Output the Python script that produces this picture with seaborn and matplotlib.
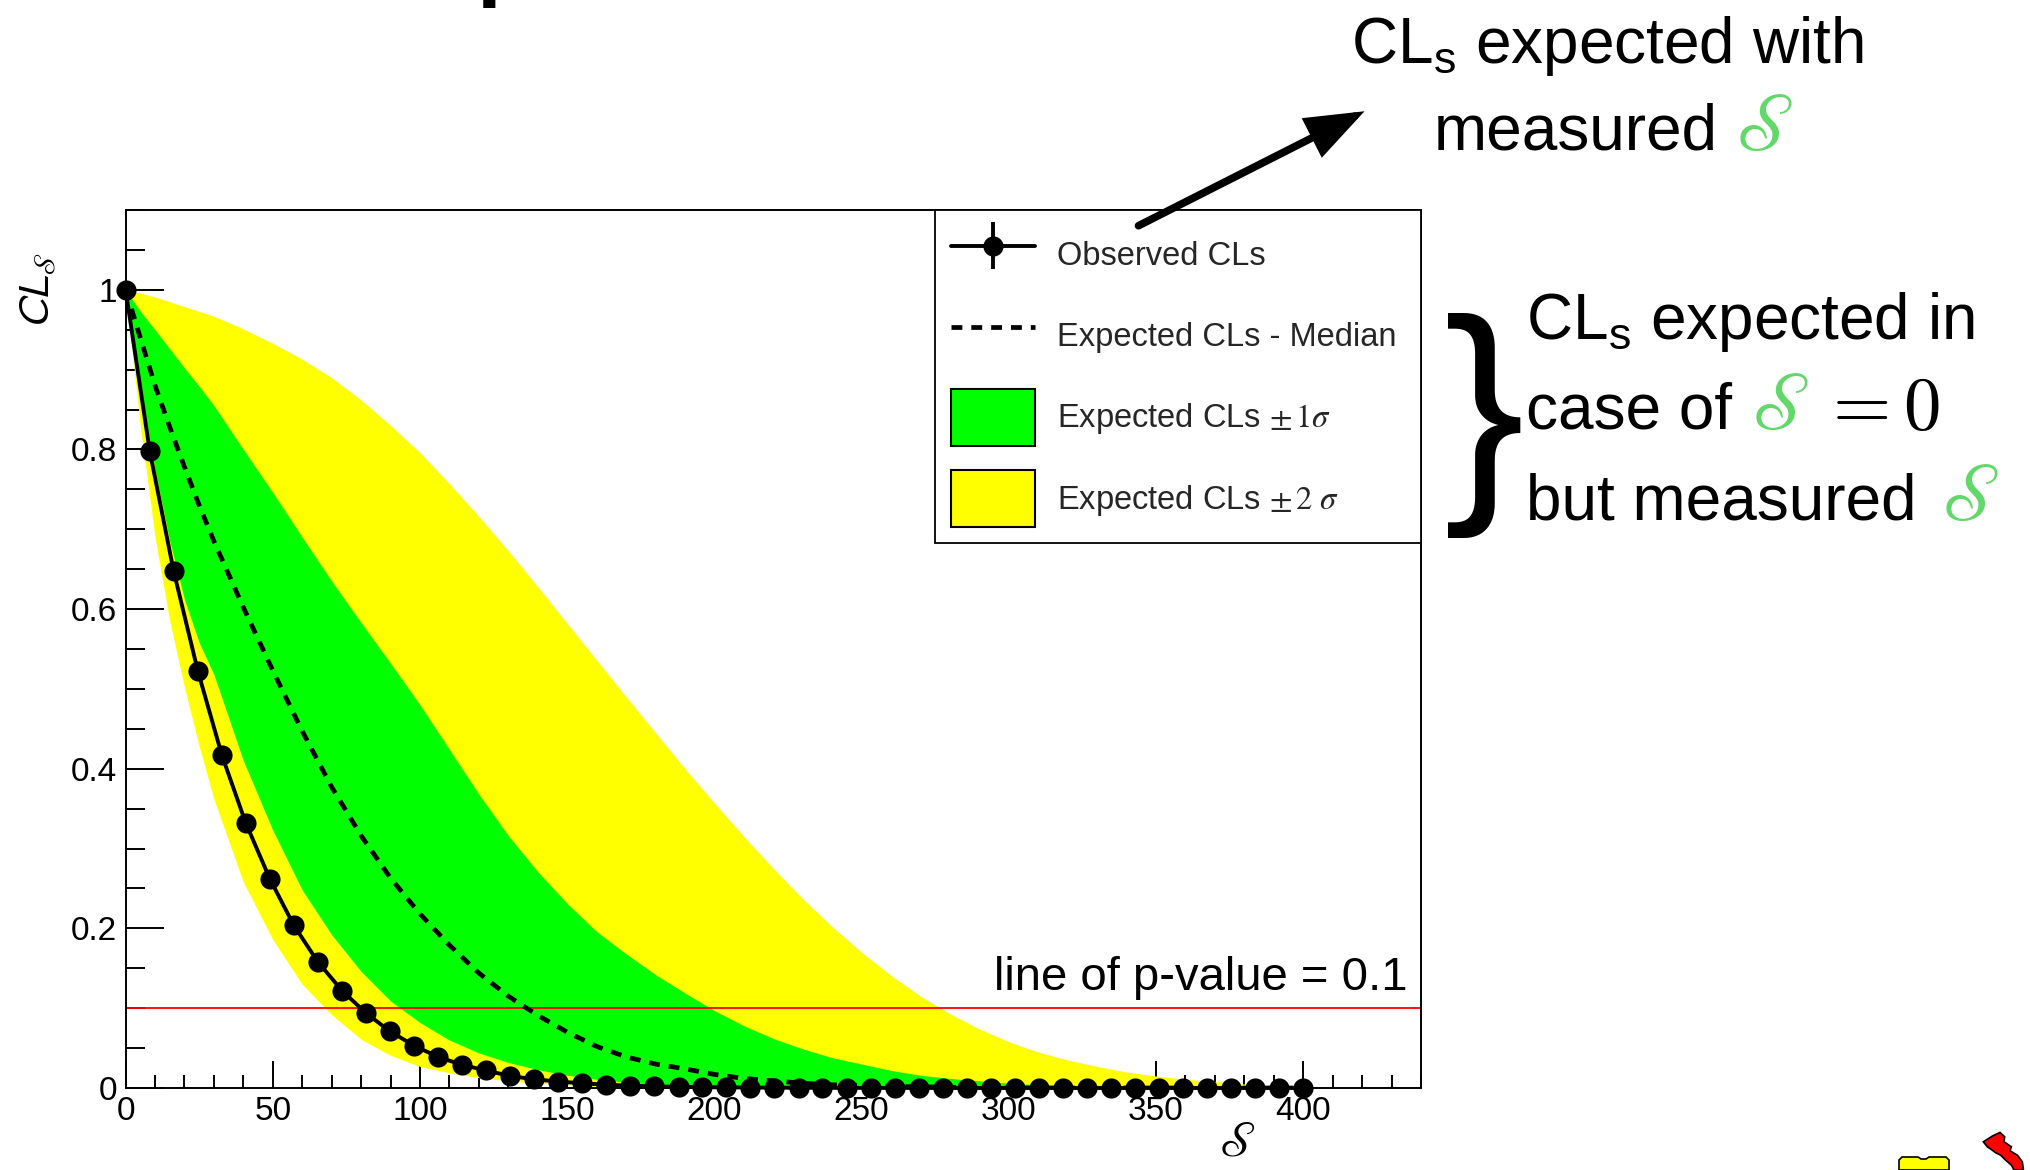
import numpy as np
import pandas as pd
import matplotlib
matplotlib.use("Agg")
import matplotlib.pyplot as plt
import seaborn as sns
from matplotlib.patches import Patch, FancyArrowPatch, Polygon
from matplotlib.ticker import MultipleLocator, FuncFormatter, FixedLocator
from matplotlib.legend_handler import HandlerErrorbar

# ---------------- data ----------------
obs_s = [0.0, 8.2, 16.3, 24.5, 32.7, 40.8, 49.0, 57.1, 65.3, 73.5,
         81.6, 89.8, 98.0, 106.1, 114.3, 122.4, 130.6, 138.8, 146.9, 155.1,
         163.3, 171.4, 179.6, 187.8, 195.9, 204.1, 212.2, 220.4, 228.6, 236.7,
         244.9, 253.1, 261.2, 269.4, 277.6, 285.7, 293.9, 302.0, 310.2, 318.4,
         326.5, 334.7, 342.9, 351.0, 359.2, 367.3, 375.5, 383.7, 391.8, 400.0]
obs_cls = [1.000, 0.798, 0.648, 0.523, 0.417, 0.332, 0.262, 0.204, 0.158, 0.122,
           0.094, 0.071, 0.053, 0.039, 0.029, 0.022, 0.015, 0.011, 0.008, 0.006,
           0.004, 0.003, 0.002, 0.0015, 0.001, 0.0008, 0.0006, 0.0004, 0.0003, 0.0002,
           0.0002, 0.0001, 0.0001, 0.0001, 0.0, 0.0, 0.0, 0.0, 0.0, 0.0,
           0.0, 0.0, 0.0, 0.0, 0.0, 0.0, 0.0, 0.0, 0.0, 0.0]

band_s = [0, 5, 10, 15, 20, 25, 30,
          40, 50, 60, 70, 80, 90, 100,
          110, 120, 130, 140, 150, 160, 170, 180, 190, 200,
          210, 220, 230, 240, 250, 260, 270, 280, 290, 300,
          310, 320, 330, 340, 350, 360, 370, 380, 390, 400]
exp_median = [1.0, 0.94, 0.880, 0.828, 0.778, 0.730, 0.685,
              0.602, 0.523, 0.447, 0.377, 0.316, 0.263, 0.218,
              0.179, 0.144, 0.115, 0.091, 0.070, 0.052, 0.039, 0.030, 0.024, 0.017,
              0.012, 0.009, 0.006, 0.004, 0.003, 0.002, 0.0015, 0.001, 0.0, 0.0,
              0.0, 0.0, 0.0, 0.0, 0.0, 0.0, 0.0, 0.0, 0.0, 0.0]
exp_1sig_lo = [1.0, 0.875, 0.775, 0.685, 0.612, 0.558, 0.518,
               0.410, 0.323, 0.248, 0.192, 0.146, 0.109, 0.082,
               0.060, 0.044, 0.032, 0.023, 0.016, 0.011, 0.007, 0.005, 0.003, 0.002,
               0.001, 0.0, 0.0, 0.0, 0.0, 0.0, 0.0, 0.0, 0.0, 0.0,
               0.0, 0.0, 0.0, 0.0, 0.0, 0.0, 0.0, 0.0, 0.0, 0.0]
exp_1sig_hi = [1.0, 0.973, 0.950, 0.926, 0.902, 0.879, 0.855,
               0.800, 0.746, 0.690, 0.635, 0.583, 0.532, 0.480,
               0.424, 0.368, 0.316, 0.271, 0.231, 0.196, 0.168, 0.142, 0.119, 0.097,
               0.078, 0.062, 0.049, 0.038, 0.030, 0.022, 0.016, 0.012, 0.009, 0.006,
               0.004, 0.003, 0.002, 0.001, 0.0, 0.0, 0.0, 0.0, 0.0, 0.0]
exp_2sig_lo = [1.0, 0.83, 0.690, 0.585, 0.502, 0.428, 0.362,
               0.258, 0.186, 0.130, 0.092, 0.061, 0.041, 0.027,
               0.019, 0.013, 0.009, 0.006, 0.004, 0.002, 0.001, 0.0, 0.0, 0.0,
               0.0, 0.0, 0.0, 0.0, 0.0, 0.0, 0.0, 0.0, 0.0, 0.0,
               0.0, 0.0, 0.0, 0.0, 0.0, 0.0, 0.0, 0.0, 0.0, 0.0]
exp_2sig_hi = [1.0, 0.996, 0.991, 0.985, 0.979, 0.973, 0.967,
               0.951, 0.933, 0.913, 0.890, 0.862, 0.830, 0.796,
               0.757, 0.716, 0.673, 0.628, 0.582, 0.536, 0.490, 0.445, 0.400, 0.357,
               0.315, 0.275, 0.237, 0.202, 0.170, 0.141, 0.115, 0.093, 0.074, 0.058,
               0.045, 0.035, 0.027, 0.020, 0.015, 0.011, 0.008, 0.005, 0.003, 0.002]
p_value = 0.1

x_ticks = [0, 50, 100, 150, 200, 250, 300, 350, 400]
y_ticks = [0.0, 0.2, 0.4, 0.6, 0.8, 1.0]
legend_labels = ["Observed CLs", "Expected CLs - Median",
                 r"Expected CLs $\pm\,1\sigma$", r"Expected CLs $\pm\,2\ \sigma$"]

# ---------------- style ----------------
sns.set_theme(style="ticks")
plt.rcParams['font.family'] = ['Liberation Sans', 'DejaVu Sans']
plt.rcParams['axes.unicode_minus'] = False

W, H = 2031, 1170
fig = plt.figure(figsize=(W / 100, H / 100), dpi=100)
fig.patch.set_facecolor('white')


def fx(px):
    return px / W


def fy(py):
    return 1 - py / H


ax = fig.add_axes([fx(125.6), fy(1088), (1421 - 125.6) / W, (1088 - 210) / H])
ax.set_facecolor('white')

obs_df = pd.DataFrame({'S': obs_s, 'CLs': obs_cls})
band_df = pd.DataFrame({'S': band_s, 'median': exp_median,
                        'lo1': exp_1sig_lo, 'hi1': exp_1sig_hi,
                        'lo2': exp_2sig_lo, 'hi2': exp_2sig_hi})

GREEN = '#00ff00'
YELLOW = '#ffff00'

ax.fill_between(band_df['S'], band_df['lo2'], band_df['hi2'], color=YELLOW, lw=0, zorder=1)
ax.fill_between(band_df['S'], band_df['lo1'], band_df['hi1'], color=GREEN, lw=0, zorder=1.1)
ax.axhline(p_value, color='#ff0000', lw=1.3, zorder=1.5)

sns.lineplot(data=band_df, x='S', y='median', color='black', linewidth=3.4,
             linestyle=(0, (2.3, 1.9)), ax=ax, legend=False, zorder=2)
med_line = ax.lines[-1]
sns.lineplot(data=obs_df, x='S', y='CLs', color='black', linewidth=2.8,
             marker='o', markersize=14.5, markeredgewidth=0, markeredgecolor='black',
             ax=ax, legend=False, zorder=3)
obs_line = ax.lines[-1]
obs_line.set_clip_on(False)

ax.set_xlim(0, 440)
ax.set_ylim(0, 1.1)

# ticks
ax.xaxis.set_major_locator(FixedLocator(x_ticks))
ax.xaxis.set_minor_locator(MultipleLocator(10))
ax.yaxis.set_major_locator(FixedLocator(y_ticks))
ax.yaxis.set_minor_locator(MultipleLocator(0.05))
ax.yaxis.set_major_formatter(FuncFormatter(lambda v, p: f"{v:g}"))
ax.xaxis.set_major_formatter(FuncFormatter(lambda v, p: f"{v:g}"))
ax.tick_params(axis='both', which='both', direction='in', colors='black',
               top=False, right=False, labelsize=24, width=1.4)
ax.tick_params(axis='x', which='major', length=19.4, pad=6)
ax.tick_params(axis='x', which='minor', length=9.4)
ax.tick_params(axis='y', which='major', length=27.6, pad=6)
ax.tick_params(axis='y', which='minor', length=13.7)
for sp in ax.spines.values():
    sp.set_color('black')
    sp.set_linewidth(1.4)
    sp.set_visible(True)

# axis titles
ax.set_xlabel(r'$\mathscr{S}$', fontsize=36, math_fontfamily='stix', color='black')
ax.xaxis.set_label_coords((1237 - 125.6) / 1295.4, (1088 - 1143) / 878)
ax.xaxis.label.set_va('center')
ax.set_ylabel(r'$CL_{\mathscr{S}}$', fontsize=31, math_fontfamily='stixsans', color='black')
ax.yaxis.set_label_coords((38 - 125.6) / 1295.4, (1088 - 290) / 878)
ax.yaxis.label.set_va('center')

# p-value text
ax.text(435.5, 0.123, "line of p-value = 0.1", fontsize=34, ha='right', va='baseline',
        color='black', zorder=4)

# legend
eb = ax.errorbar([np.nan], [np.nan], yerr=[0.0], fmt='-o', color='black', lw=2.8, ms=14.5,
                 elinewidth=2.8, capsize=12, capthick=2.8, mew=0)
p1 = Patch(facecolor=GREEN, edgecolor='black', linewidth=1.5)
p2 = Patch(facecolor=YELLOW, edgecolor='black', linewidth=1.5)
leg_x0 = (935 - 125.6) / 1295.4
leg = ax.legend([eb, med_line, p1, p2], legend_labels, loc='upper left', mode='expand',
                bbox_to_anchor=(leg_x0, 0.0, 1.0 - leg_x0, 1.0), borderaxespad=0,
                fontsize=23.5, frameon=True, fancybox=False, edgecolor='black',
                framealpha=1, handlelength=2.55, handleheight=2.3, handletextpad=0.7,
                labelspacing=0.75, borderpad=0.5,
                handler_map={eb: HandlerErrorbar(yerr_size=0.72)})
leg.get_frame().set_linewidth(1.3)
for t in leg.get_texts():
    t.set_math_fontfamily('stix')
leg.set_zorder(5)

# ---------------- annotations ----------------
FS = 46
SFS = 58
SGREEN = '#63d86a'


def run(parts, x_px, base_px):
    """parts: list of (text, color, fontsize, math_family, gap_px_before)"""
    fig.canvas.draw()
    r = fig.canvas.get_renderer()
    x = x_px
    out = []
    for i, (s, col, fs, mfam, gap) in enumerate(parts):
        if i > 0:
            bb = out[-1].get_window_extent(renderer=r)
            x = bb.x1 + gap
        kw = dict(fontsize=fs, color=col, ha='left', va='baseline')
        if mfam:
            kw['math_fontfamily'] = mfam
        t = fig.text(x / W, fy(base_px), s, **kw)
        out.append(t)
    return out


run([(r"CL$_\mathregular{s}$ expected with", 'black', FS, None, 0)], 1351, 62.5)
run([("measured", 'black', FS, None, 0),
     (r"$\mathscr{S}$", SGREEN, SFS, 'stix', 16)], 1434, 150)

run([(r"CL$_\mathregular{s}$ expected in", 'black', FS, None, 0)], 1526, 339)
run([("case of", 'black', FS, None, 0),
     (r"$\mathscr{S}$", SGREEN, SFS, 'stix', 18),
     (r"$=0$", 'black', 54, 'cm', 11)], 1526, 428.6)
run([("but measured", 'black', FS, None, 0),
     (r"$\mathscr{S}$", SGREEN, SFS, 'stix', 24)], 1526, 519.6)

# brace
fig.text(fx(1484), fy(425), "}", fontsize=174, family='Liberation Sans',
         ha='center', va='center', color='black')

# arrow from legend to the top annotation
arr = FancyArrowPatch((fx(1136), fy(227)), (fx(1367), fy(110)), transform=fig.transFigure,
                      arrowstyle='-|>,head_length=32,head_width=12', linewidth=5.5,
                      color='black', capstyle='round', joinstyle='miter', zorder=10)
fig.add_artist(arr)

# cut-off title glyph at the very top
fig.text(fx(476), 1 + 11 / H, "p", fontsize=64, fontweight='bold', ha='left',
         va='baseline', color='black')

# cut-off clip-art icons bottom right
yel = [(1899, 1170), (1899, 1160), (1902, 1157), (1918, 1157), (1921, 1159), (1926, 1159),
       (1929, 1157), (1946, 1157), (1949, 1160), (1949, 1170)]
red = [(1983.3, 1141.8), (1992.3, 1136.1), (2000, 1132.4), (2004.7, 1136.8), (2004, 1141.8),
       (2011.4, 1146.8), (2010, 1150.8), (2017.4, 1155.2), (2022.4, 1161.9), (2023.4, 1170),
       (2014, 1170), (2011.4, 1165.2), (2005.7, 1160.2), (2000.7, 1155.2), (1995.7, 1152.8),
       (1992.3, 1150.2), (1987.3, 1146.8)]
for pts, col in ((yel, '#ffff00'), (red, '#ff0000')):
    fig.add_artist(Polygon([(fx(a), fy(b)) for a, b in pts], closed=True, transform=fig.transFigure,
                           facecolor=col, edgecolor='black', linewidth=1.2))

fig.savefig("out.png", dpi=100, facecolor='white')
